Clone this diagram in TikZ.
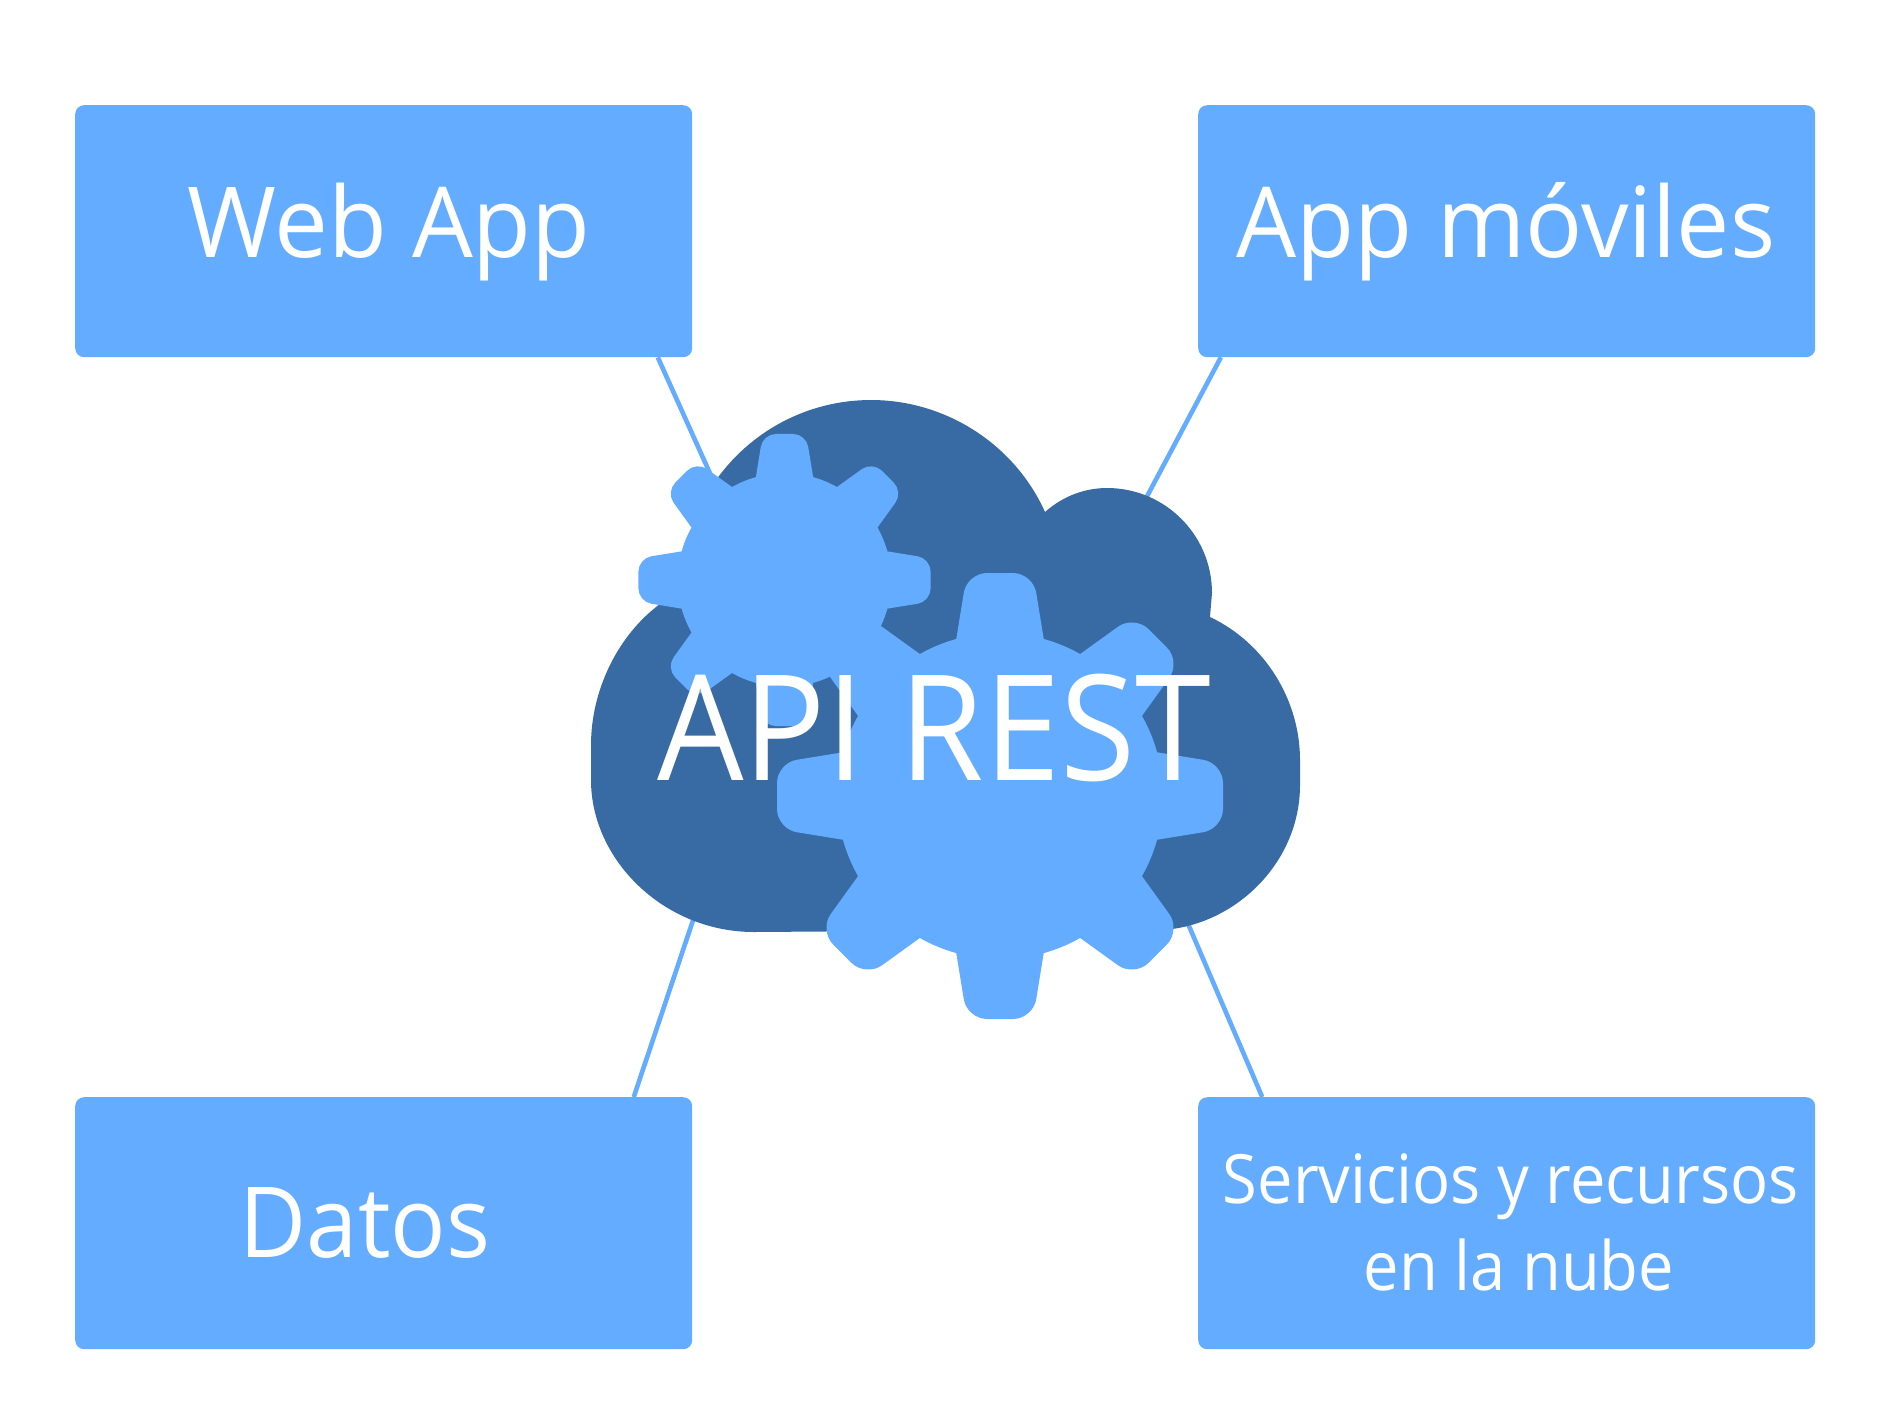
\documentclass[tikz,border=0pt]{standalone}
\usepackage{fontspec}
\setmainfont[FakeStretch=0.93]{Open Sans}
\newfontfamily\webfont[FakeStretch=0.98]{Open Sans}
\newfontfamily\movilfont[FakeStretch=0.968]{Open Sans}
\newfontfamily\datosfont[FakeStretch=0.94]{Open Sans}
\usetikzlibrary{calc}
\pgfdeclarelayer{connectors}
\pgfsetlayers{connectors,main}
\definecolor{skyfill}{HTML}{63ACFF}
\definecolor{cloudfill}{HTML}{386BA4}
\tikzset{
  boxnode/.style={fill=skyfill,rounded corners=9pt,minimum width=617pt,minimum height=252pt,inner sep=0pt,anchor=north west},
  boxlabel/.style={text=white,anchor=base,inner sep=0pt},
  wire/.style={draw=skyfill,line width=4.6pt},
  pics/gear/.style={code={
    \fill[skyfill] (0,0) circle (163);
    \foreach \a in {0,45,...,315}{
      \fill[skyfill,rotate=\a,rounded corners=#1] (-53,-100) -- (-33,-223) -- (33,-223) -- (53,-100) -- cycle;
    }
  }}
}
\begin{document}
\begin{tikzpicture}[x=1pt,y=-1pt]
\useasboundingbox (0,0) rectangle (1890,1417);
% boxes
\node[boxnode] (web) at (75,105) {};
\node[boxnode] (movil) at (1198,105) {};
\node[boxnode] (datos) at (75,1097) {};
\node[boxnode] (nube) at (1198,1097) {};
% free ends of the connectors, hidden behind the cloud
\coordinate (hubweb) at (740,540);
\coordinate (hubmovil) at (1110,566);
\coordinate (hubdatos) at (730,810);
\coordinate (hubnube) at (1150,835);
\begin{pgfonlayer}{connectors}
\draw[wire] ($(web.south west)!0.944!(web.south east)$) -- (hubweb);
\draw[wire] ($(movil.south west)!0.037!(movil.south east)$) -- (hubmovil);
\draw[wire] ($(datos.north west)!0.905!(datos.north east)$) -- (hubdatos);
\draw[wire] ($(nube.north west)!0.104!(nube.north east)$) -- (hubnube);
\end{pgfonlayer}
% cloud
\fill[cloudfill] (754,932)
  .. controls (664,932) and (591,860) .. (591,780)
  -- (591,745)
  .. controls (591,690) and (618,635) .. (660,604)
  -- (714,483)
  .. controls (749.5,431) and (808,400) .. (871,400)
  .. controls (946.5,400) and (1015,445) .. (1045,512)
  .. controls (1063,496) and (1085,488) .. (1107,488)
  .. controls (1165,488) and (1212,535) .. (1212,593)
  -- (1210,617)
  .. controls (1265,643) and (1300,700) .. (1300,760)
  -- (1300,785)
  .. controls (1300,860) and (1240,920) .. (1172,929)
  -- cycle;
% gears
\pic[scale=0.655] (smallgear) at (784.5,580) {gear=13pt};
\pic (biggear) at (1000,796) {gear=20pt};
% texts
\node[boxlabel,font=\webfont\fontsize{98}{98}\selectfont] (webtext) at (389,257) {Web App};
\node[boxlabel,font=\movilfont\fontsize{98}{98}\selectfont] (moviltext) at (1506,257) {App móviles};
\node[boxlabel,font=\datosfont\fontsize{98}{98}\selectfont] (datostext) at (365,1257) {Datos};
\node[boxlabel,font=\fontsize{68}{68}\selectfont] (nubetexta) at (1511,1203) {Servicios y recursos};
\node[boxlabel,font=\fontsize{68}{68}\selectfont] (nubetextb) at (1519,1290) {en la nube};
\node[boxlabel,font=\fontsize{147}{147}\selectfont] (apitext) at (934,780) {API REST};
\end{tikzpicture}
\end{document}
